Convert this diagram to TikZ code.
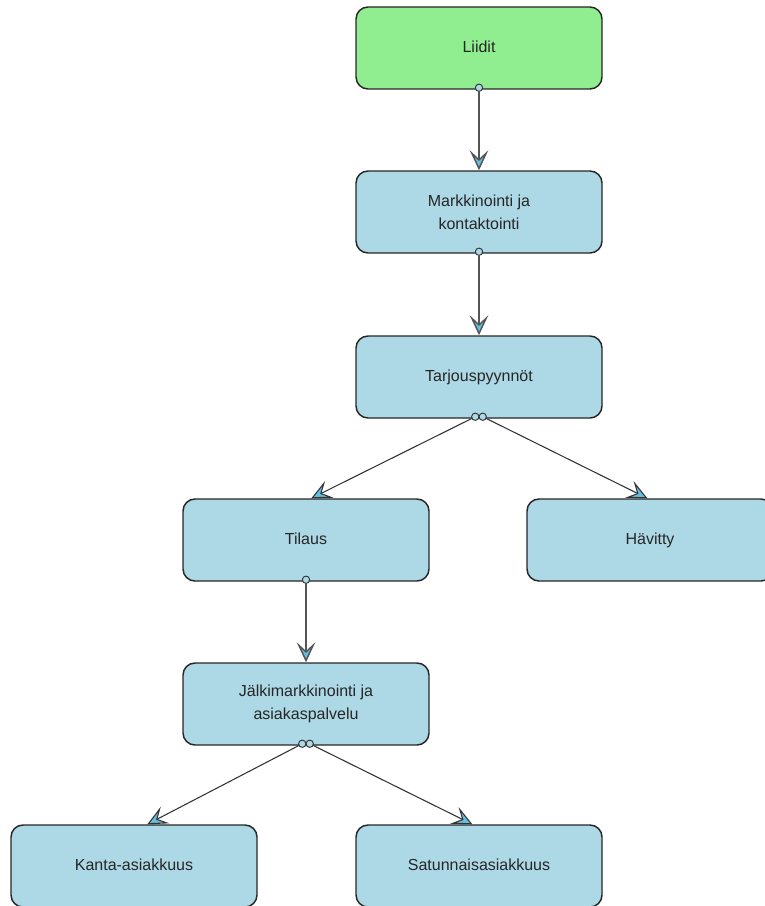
\documentclass[tikz,border=0pt]{standalone}
\usepackage{fontspec}
\setmainfont{Liberation Sans}
\usetikzlibrary{arrows.meta}
\definecolor{leadgreen}{RGB}{144,238,144}
\definecolor{stepblue}{RGB}{173,216,230}
\definecolor{tipblue}{RGB}{100,190,225}
\definecolor{linegray}{RGB}{85,85,85}
\tikzset{
  stage/.style={draw=black!85, line width=1.1pt, rounded corners=9pt, fill=stepblue,
    minimum width=184.5pt, minimum height=61.5pt, align=center,
    font=\fontsize{12}{17}\selectfont, text=black!85},
  oneline/.style={text height=1.85ex, text depth=0.45ex},
  flow/.style={draw=linegray, line width=1.1pt,
    -{Stealth[length=15pt,width=14pt,inset=6.5pt,fill=tipblue]}},
  port/.style={circle, draw=black!80, fill=stepblue, line width=0.7pt,
    inner sep=0pt, minimum size=5.5pt},
}
\begin{document}
\begin{tikzpicture}[x=0.75pt,y=0.75pt,yscale=-1,xscale=1]
\useasboundingbox (0,0) rectangle (764,906);

%Stages
\node[stage, oneline, fill=leadgreen] (liidit) at (479,48) {Liidit};
\node[stage] (markk) at (479,212) {Markkinointi ja\\kontaktointi};
\node[stage, oneline] (tarjous) at (479,377) {Tarjouspyynnöt};
\node[stage, oneline] (tilaus) at (306,540) {Tilaus};
\node[stage, oneline] (havitty) at (650,540) {Hävitty};
\node[stage] (jalki) at (306,704) {Jälkimarkkinointi ja\\asiakaspalvelu};
\node[stage, oneline] (kanta) at (134,866) {Kanta-asiakkuus};
\node[stage, oneline] (satunn) at (479,866) {Satunnaisasiakkuus};

%Ports
\node[port] (p1) at ([yshift=-1.5pt]liidit.south) {};
\node[port] (p2) at ([yshift=-1.5pt]markk.south) {};
\node[port] (p3a) at ([xshift=-2.8pt,yshift=-1.5pt]tarjous.south) {};
\node[port] (p3b) at ([xshift=2.8pt,yshift=-1.5pt]tarjous.south) {};
\node[port] (p4) at ([yshift=-1.5pt]tilaus.south) {};
\node[port] (p5a) at ([xshift=-2.8pt,yshift=-1.5pt]jalki.south) {};
\node[port] (p5b) at ([xshift=2.8pt,yshift=-1.5pt]jalki.south) {};

%Connectors
\draw[flow] (p1) -- (markk.north);
\draw[flow] (p2) -- (tarjous.north);
\draw[flow, draw=black!80, line width=0.8pt] (p3a) -- ([xshift=4pt]tilaus.north);
\draw[flow, draw=black!80, line width=0.8pt] (p3b) -- ([xshift=-2pt]havitty.north);
\draw[flow] (p4) -- (jalki.north);
\draw[flow, draw=black!80, line width=0.8pt] (p5a) -- ([xshift=10pt]kanta.north);
\draw[flow, draw=black!80, line width=0.8pt] (p5b) -- ([xshift=-5pt]satunn.north);

\end{tikzpicture}
\end{document}
